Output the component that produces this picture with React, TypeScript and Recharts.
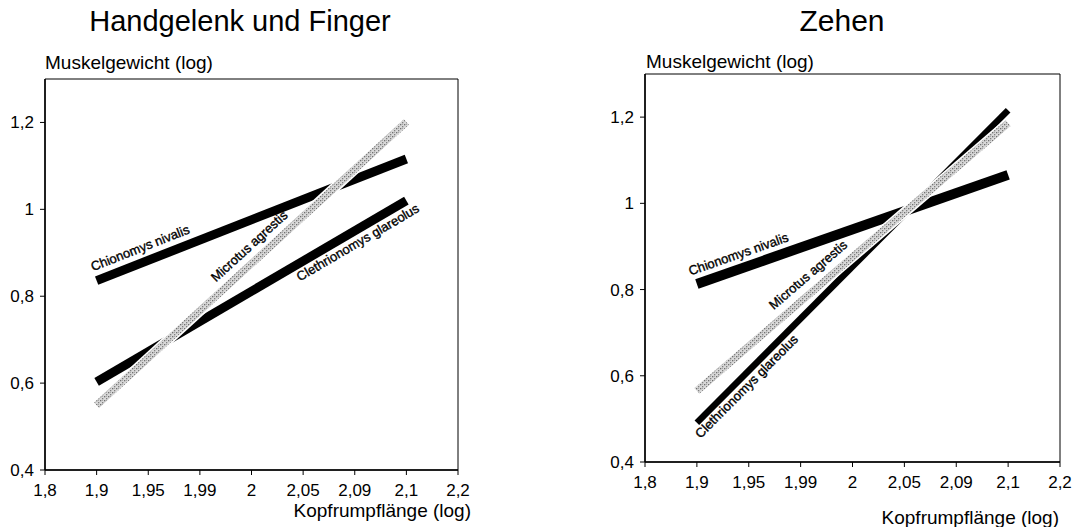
import React from 'react';
import { LineChart, Line, XAxis, YAxis, ReferenceLine, ReferenceArea } from 'recharts';

// ---- data ----
const xCategories = ['1,8', '1,9', '1,95', '1,99', '2', '2,05', '2,09', '2,1', '2,2'];
const lineEnds = ['1,9', '2,1'];
const yTicks = [0.4, 0.6, 0.8, 1, 1.2];
const yDomain = [0.4, 1.3];
const speciesNames = ['Chionomys nivalis', 'Microtus agrestis', 'Clethrionomys glareolus'];

// Handgelenk und Finger
const handChionomys = [0.836, 1.116];
const handMicrotus = [0.549, 1.201];
const handClethrionomys = [0.603, 1.02];

// Zehen
const toeChionomys = [0.813, 1.066];
const toeMicrotus = [0.565, 1.186];
const toeClethrionomys = [0.491, 1.216];

const FONT = '"Liberation Sans", Arial, Helvetica, sans-serif';

function buildRows(chion: number[], micro: number[], cleth: number[]) {
  return xCategories.map((x) => {
    const i = lineEnds.indexOf(x);
    return {
      x,
      chion: i >= 0 ? chion[i] : null,
      micro: i >= 0 ? micro[i] : null,
      cleth: i >= 0 ? cleth[i] : null,
    };
  });
}

const fmt = (v: number) => String(v).replace('.', ',');

function slopeLabel(text: string, t: number, off: number) {
  return (props: any) => {
    const vb = props.viewBox;
    if (!vb || vb.width == null) return null;
    const x1 = vb.x;
    const y1 = vb.y + vb.height;
    const x2 = vb.x + vb.width;
    const y2 = vb.y;
    const dx = x2 - x1;
    const dy = y2 - y1;
    const len = Math.hypot(dx, dy) || 1;
    const ux = dx / len;
    const uy = dy / len;
    const px = x1 + t * dx + off * uy;
    const py = y1 + t * dy - off * ux;
    const ang = (Math.atan2(dy, dx) * 180) / Math.PI;
    return (
      <text
        x={px}
        y={py}
        transform={`rotate(${ang} ${px} ${py})`}
        fontSize={13}
        fontFamily={FONT}
        fill="#000"
        stroke="#000"
        strokeWidth={0.35}
      >
        {text}
      </text>
    );
  };
}

type PanelProps = {
  chion: number[];
  micro: number[];
  cleth: number[];
  width: number;
  margin: { top: number; right: number; bottom: number; left: number };
  patternId: string;
  widths: [number, number, number];
  labelPos: [number, number][];
};

function Panel({ chion, micro, cleth, width, margin, patternId, widths, labelPos }: PanelProps) {
  const rows = buildRows(chion, micro, cleth);
  const series = [chion, micro, cleth];
  const tickStyle = { fill: '#000', fontSize: 17, fontFamily: FONT };
  return (
    <LineChart width={width} height={527} data={rows} margin={margin}>
      <defs>
        <pattern id={patternId} width="4" height="4" patternUnits="userSpaceOnUse">
          <rect x="0" y="0" width="4" height="4" fill="#d8d8d8" />
          <rect x="0" y="0" width="1.3" height="1.3" fill="#707070" />
          <rect x="2" y="2" width="1.3" height="1.3" fill="#808080" />
          <rect x="2" y="0" width="1" height="1" fill="#a8a8a8" />
        </pattern>
      </defs>
      <ReferenceArea
        x1={xCategories[0]}
        x2={xCategories[xCategories.length - 1]}
        y1={yDomain[0]}
        y2={yDomain[1]}
        fill="none"
        stroke="#000"
        strokeWidth={1}
        fillOpacity={0}
      />
      <XAxis
        dataKey="x"
        type="category"
        interval={0}
        height={40}
        tickSize={5}
        tickMargin={9}
        tick={tickStyle}
        axisLine={{ stroke: '#000', strokeWidth: 1.5 }}
        tickLine={{ stroke: '#000', strokeWidth: 1 }}
      />
      <YAxis
        type="number"
        domain={yDomain}
        ticks={yTicks}
        allowDataOverflow
        width={40}
        tickSize={5}
        tickMargin={6}
        tick={tickStyle}
        tickFormatter={fmt}
        axisLine={{ stroke: '#000', strokeWidth: 1.5 }}
        tickLine={{ stroke: '#000', strokeWidth: 1 }}
      />
      <Line
        dataKey="chion"
        type="linear"
        stroke="#000"
        strokeWidth={widths[0]}
        dot={false}
        activeDot={false}
        connectNulls
        isAnimationActive={false}
      />
      <Line
        dataKey="cleth"
        type="linear"
        stroke="#000"
        strokeWidth={widths[2]}
        dot={false}
        activeDot={false}
        connectNulls
        isAnimationActive={false}
      />
      <Line
        dataKey="micro"
        type="linear"
        stroke="#fff"
        strokeWidth={widths[1] + 3}
        dot={false}
        activeDot={false}
        connectNulls
        isAnimationActive={false}
      />
      <Line
        dataKey="micro"
        type="linear"
        stroke={`url(#${patternId})`}
        strokeWidth={widths[1]}
        dot={false}
        activeDot={false}
        connectNulls
        isAnimationActive={false}
      />
      {series.map((s, i) => (
        <ReferenceLine
          key={speciesNames[i]}
          segment={[
            { x: lineEnds[0], y: s[0] },
            { x: lineEnds[1], y: s[1] },
          ]}
          stroke="none"
          ifOverflow="visible"
          label={slopeLabel(speciesNames[i], labelPos[i][0], labelPos[i][1])}
        />
      ))}
    </LineChart>
  );
}

const textBase: React.CSSProperties = {
  position: 'absolute',
  fontFamily: FONT,
  color: '#000',
  whiteSpace: 'nowrap',
};

export default function App() {
  return (
    <div
      style={{
        position: 'absolute',
        left: 0,
        top: 0,
        width: 1077,
        height: 527,
        background: '#fff',
        overflow: 'hidden',
        fontFamily: FONT,
      }}
    >
      <div style={{ ...textBase, left: 40, top: 7, width: 400, textAlign: 'center', fontSize: 29, lineHeight: '29px' }}>
        Handgelenk und Finger
      </div>
      <div style={{ ...textBase, left: 642, top: 6, width: 400, textAlign: 'center', fontSize: 30, lineHeight: '30px' }}>
        Zehen
      </div>
      <div style={{ ...textBase, left: 45, top: 53, fontSize: 19, lineHeight: '19px' }}>Muskelgewicht (log)</div>
      <div style={{ ...textBase, left: 646, top: 52, fontSize: 19, lineHeight: '19px' }}>Muskelgewicht (log)</div>
      <div style={{ ...textBase, left: 171, top: 501, width: 300, textAlign: 'right', fontSize: 19, lineHeight: '19px' }}>
        Kopfrumpflänge (log)
      </div>
      <div style={{ ...textBase, left: 759, top: 508, width: 300, textAlign: 'right', fontSize: 19, lineHeight: '19px' }}>
        Kopfrumpflänge (log)
      </div>

      <div style={{ position: 'absolute', left: 0, top: 0 }}>
        <Panel
          chion={handChionomys}
          micro={handMicrotus}
          cleth={handClethrionomys}
          width={540}
          margin={{ top: 79, right: 82, bottom: 17, left: 5 }}
          patternId="hatchHand"
          widths={[9, 7.5, 9]}
          labelPos={[
            [0, 10],
            [0.407, 10],
            [0.63, -16],
          ]}
        />
      </div>
      <div style={{ position: 'absolute', left: 540, top: 0 }}>
        <Panel
          chion={toeChionomys}
          micro={toeMicrotus}
          cleth={toeClethrionomys}
          width={537}
          margin={{ top: 74, right: 17, bottom: 25, left: 65 }}
          patternId="hatchToe"
          widths={[10, 7.5, 6.5]}
          labelPos={[
            [-0.01, 10],
            [0.27, 11],
            [-0.02, -14],
          ]}
        />
      </div>
    </div>
  );
}
